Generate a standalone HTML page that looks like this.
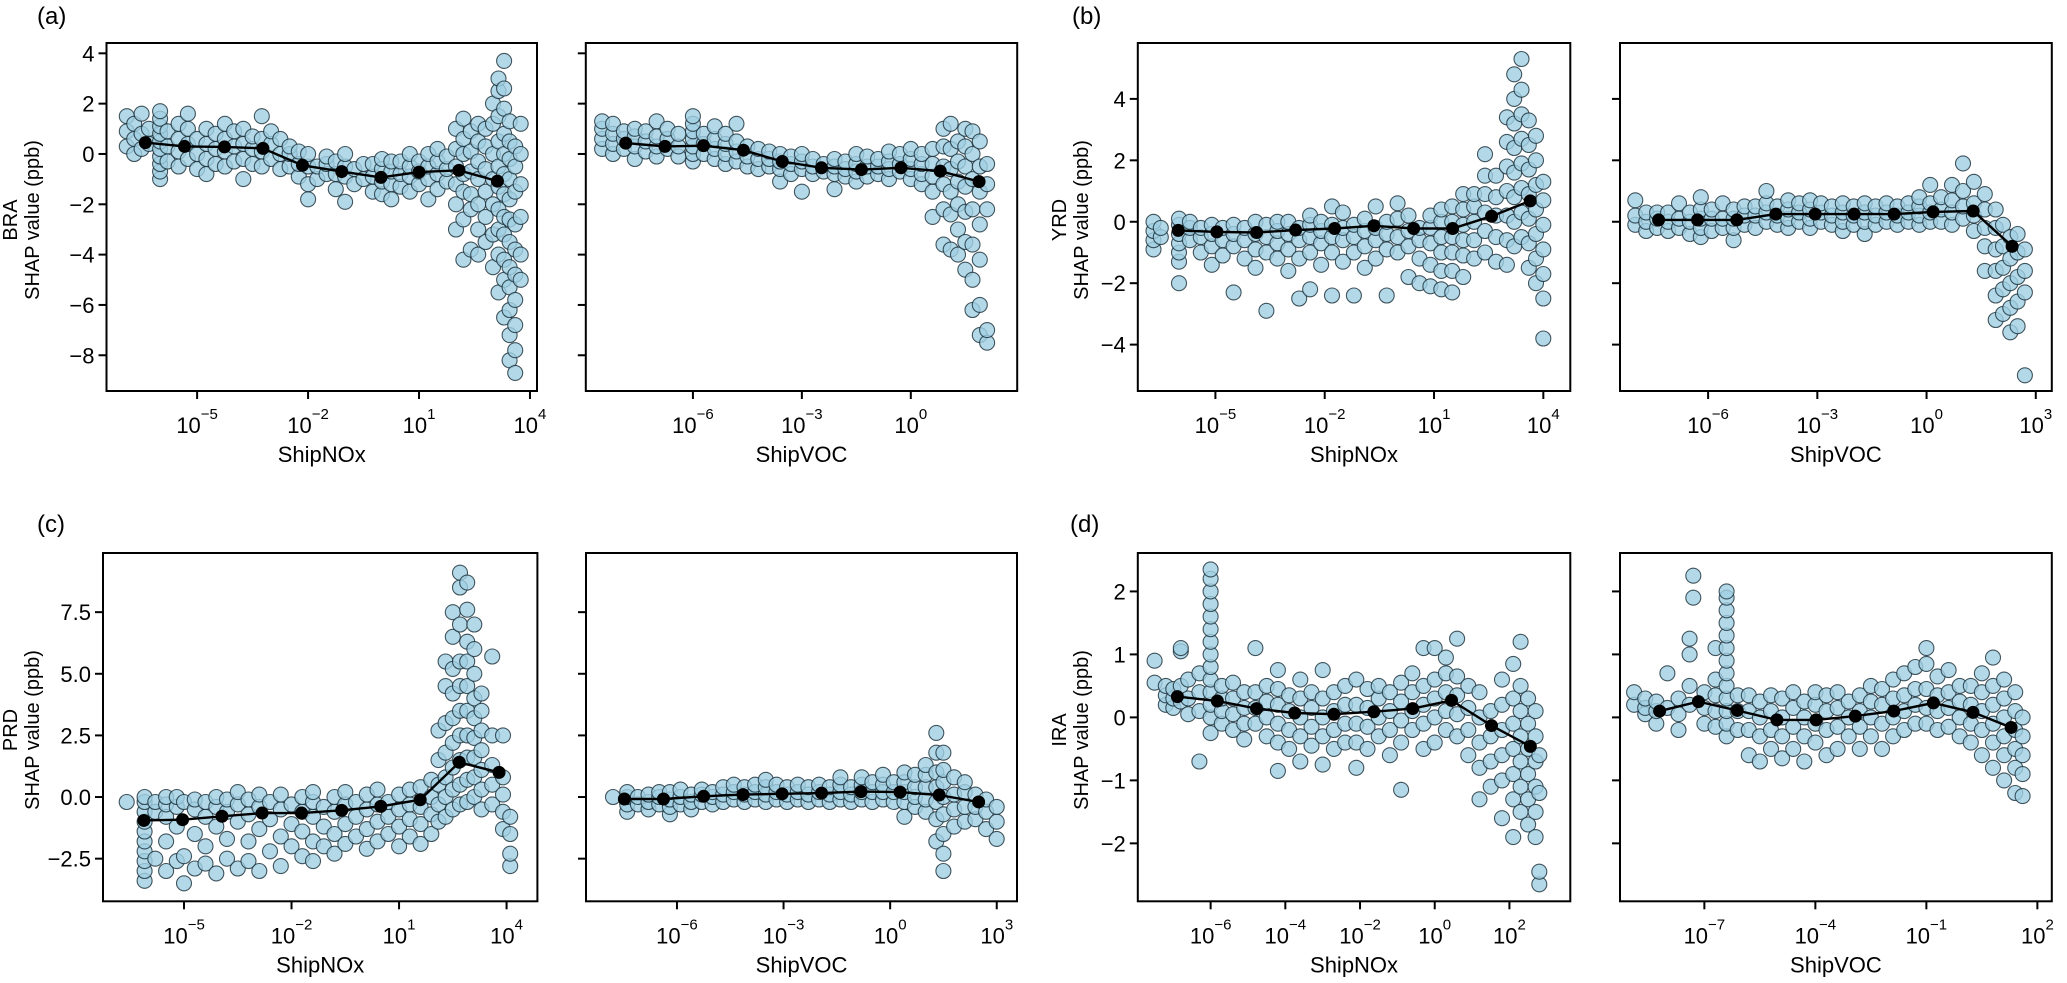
<!DOCTYPE html>
<html><head><meta charset="utf-8"><style>
html,body{margin:0;padding:0;background:#fff;}
svg{display:block;font-family:"Liberation Sans",Arial,sans-serif;}
</style></head><body>
<svg id="fig" width="2067" height="983" viewBox="0 0 2067 983" xmlns="http://www.w3.org/2000/svg"></svg>
<script>
// ---- mean-curve data (x in log10 units, y in ppb) ----
const braNOxMeanX=[-6.4,-5.34,-4.26,-3.22,-2.15,-1.09,-0.03,1.0,2.08,3.12];
const braNOxMeanY=[0.45,0.3,0.28,0.22,-0.45,-0.7,-0.93,-0.72,-0.65,-1.08];
const braVOCMeanX=[-7.85,-6.77,-5.71,-4.61,-3.54,-2.46,-1.36,-0.27,0.81,1.88];
const braVOCMeanY=[0.43,0.3,0.33,0.15,-0.3,-0.55,-0.62,-0.55,-0.68,-1.1];
const yrdNOxMeanX=[-6.02,-4.96,-3.87,-2.8,-1.73,-0.65,0.44,1.51,2.58,3.64];
const yrdNOxMeanY=[-0.28,-0.33,-0.35,-0.27,-0.22,-0.13,-0.22,-0.22,0.18,0.68];
const yrdVOCMeanX=[-7.36,-6.29,-5.21,-4.14,-3.06,-1.99,-0.89,0.18,1.28,2.35];
const yrdVOCMeanY=[0.06,0.06,0.06,0.25,0.25,0.25,0.25,0.32,0.35,-0.8];
const prdNOxMeanX=[-6.12,-5.04,-3.94,-2.82,-1.72,-0.6,0.49,1.59,2.68,3.79];
const prdNOxMeanY=[-0.95,-0.92,-0.78,-0.65,-0.65,-0.54,-0.38,-0.11,1.41,1.0];
const prdVOCMeanX=[-7.48,-6.38,-5.25,-4.14,-3.04,-1.93,-0.82,0.28,1.38,2.49];
const prdVOCMeanY=[-0.08,-0.08,0.03,0.1,0.13,0.16,0.22,0.2,0.08,-0.2];
const iraNOxMeanX=[-6.89,-5.82,-4.77,-3.75,-2.7,-1.63,-0.59,0.45,1.52,2.56];
const iraNOxMeanY=[0.33,0.26,0.14,0.07,0.05,0.09,0.14,0.27,-0.13,-0.46];
const iraVOCMeanX=[-8.21,-7.16,-6.11,-5.04,-3.98,-2.92,-1.88,-0.81,0.26,1.29];
const iraVOCMeanY=[0.1,0.25,0.11,-0.04,-0.04,0.02,0.1,0.23,0.08,-0.16];

// ---- scatter data: [log10 x, [SHAP values...]] ----
const braNOxPts=[[-6.9,[0.3,0.9,1.5]],[-6.7,[0,0.6,1.2]],[-6.5,[0.2,0.8,1.6]],[-6.3,[0.4,1.0]],[-6.0,[-1.0,-0.7,-0.4,-0.1,0.2,0.5,0.8,1.1,1.4,1.7]],[-5.8,[-0.3,0.3,0.9]],[-5.5,[-0.5,0.1,0.6,1.2]],[-5.25,[-0.2,0.4,1.0,1.6]],[-5.0,[-0.6,0,0.6]],[-4.75,[-0.8,-0.2,0.4,1.0]],[-4.5,[-0.4,0.2,0.8]],[-4.25,[-0.5,0.1,0.6,1.2]],[-4.0,[-0.3,0.3,0.9]],[-3.75,[-1.0,-0.2,0.4,1.0]],[-3.5,[-0.4,0.2,0.7]],[-3.25,[-0.5,0.1,0.6,1.5]],[-3.0,[-0.2,0.4,0.9]],[-2.75,[-0.6,0,0.6]],[-2.5,[-0.5,0,0.3]],[-2.25,[-0.9,-0.4,0.1]],[-2.0,[-1.8,-1.2,-0.5,0]],[-1.75,[-1.0,-0.5]],[-1.5,[-0.8,-0.4,-0.1]],[-1.25,[-1.4,-0.8,-0.3]],[-1.0,[-1.9,-0.9,-0.5,0]],[-0.75,[-1.2,-0.6]],[-0.5,[-1.0,-0.4]],[-0.25,[-1.5,-0.9,-0.4]],[0,[-1.6,-1.1,-0.6,-0.2]],[0.25,[-1.8,-1.2,-0.7,-0.3]],[0.5,[-1.3,-0.8,-0.3]],[0.75,[-1.5,-0.9,-0.5,0]],[1.0,[-1.2,-0.7,-0.3]],[1.25,[-1.8,-1.0,-0.5,0]],[1.5,[-1.4,-0.8,-0.3,0.2]],[1.75,[-1.1,-0.6,-0.1]],[2.0,[-3.0,-2.0,-1.2,-0.5,0.2,1.0]],[2.2,[-4.2,-2.6,-1.5,-0.8,0,0.6,1.4]],[2.4,[-3.8,-2.2,-1.6,-0.7,0.1,0.9]],[2.6,[-4.0,-3.0,-2.0,-1.0,-0.3,0.5,1.2]],[2.8,[-3.5,-2.5,-1.5,-0.6,0.3,1.0]],[3.0,[-4.5,-3.2,-2.0,-1.0,0,1.2,2.0]],[3.15,[-5.5,-4.0,-3.0,-2.2,-1.3,-0.5,0.5,1.5,2.5,3.0]],[3.3,[-6.5,-5.0,-4.2,-3.2,-2.5,-1.6,-0.8,0,0.8,1.8,2.6,3.7]],[3.45,[-8.2,-7.2,-6.2,-5.3,-4.5,-3.5,-2.6,-1.8,-1.0,-0.2,0.5,1.3]],[3.6,[-8.7,-7.8,-6.8,-5.8,-4.8,-3.8,-2.8,-1.5,-0.5,0.3]],[3.75,[-5.0,-4.0,-2.5,-1.2,0,1.2]]];
const braVOCPts=[[-8.5,[0.2,0.6,1.0,1.3]],[-8.2,[0,0.4,0.8,1.2]],[-7.9,[0.2,0.6,0.9]],[-7.6,[-0.2,0.3,0.7,1.0]],[-7.3,[0.1,0.5,0.9]],[-7.0,[-0.1,0.3,0.7,1.3]],[-6.7,[0.2,0.6,1.0]],[-6.4,[-0.1,0.3,0.8]],[-6.0,[-0.3,0,0.3,0.6,0.9,1.2,1.5]],[-5.7,[0,0.4,0.8]],[-5.4,[-0.2,0.2,0.6,1.1]],[-5.1,[-0.4,0,0.4,0.8]],[-4.8,[-0.3,0.1,0.5,1.2]],[-4.5,[-0.5,-0.1,0.3]],[-4.2,[-0.6,-0.2,0.2]],[-3.9,[-0.5,-0.2,0.1]],[-3.6,[-1.1,-0.6,-0.3,0]],[-3.3,[-0.8,-0.4,-0.1]],[-3.0,[-1.5,-0.6,-0.3,0]],[-2.7,[-0.8,-0.5,-0.2]],[-2.4,[-0.7,-0.4]],[-2.1,[-1.4,-0.8,-0.5,-0.2]],[-1.8,[-0.9,-0.6,-0.3]],[-1.5,[-1.1,-0.7,-0.4,0]],[-1.2,[-0.9,-0.5,-0.1]],[-0.9,[-0.8,-0.5,-0.2]],[-0.6,[-1.0,-0.6,-0.3,0.1]],[-0.3,[-0.7,-0.4,0]],[0,[-1.0,-0.6,-0.2,0.2]],[0.3,[-1.2,-0.8,-0.4,0]],[0.6,[-2.5,-1.5,-0.9,-0.4,0.2]],[0.9,[-3.6,-2.2,-1.2,-0.5,0.3,1.0]],[1.1,[-3.8,-2.4,-1.5,-0.6,0.2,1.2]],[1.3,[-4.0,-3.0,-2.0,-1.1,-0.3,0.5]],[1.5,[-4.6,-3.5,-2.3,-1.3,-0.5,0.3,1.0]],[1.7,[-6.2,-5.0,-3.6,-2.2,-1.0,0,0.9]],[1.9,[-7.2,-6.0,-4.2,-2.8,-1.5,-0.5,0.5]],[2.1,[-7.5,-7.0,-2.2,-1.2,-0.4]]];
const yrdNOxPts=[[-6.7,[-0.9,-0.6,-0.3,0]],[-6.5,[-0.5,-0.2]],[-6.0,[-2.0,-1.3,-1.0,-0.7,-0.4,-0.1,0.1]],[-5.7,[-0.6,-0.2,0]],[-5.4,[-1.0,-0.5,-0.2]],[-5.1,[-1.4,-0.8,-0.4,-0.1]],[-4.8,[-1.1,-0.6,-0.2]],[-4.5,[-2.3,-0.8,-0.4,-0.1]],[-4.2,[-1.2,-0.6,-0.2]],[-3.9,[-1.5,-0.9,-0.4,0]],[-3.6,[-2.9,-1.0,-0.5,-0.1]],[-3.3,[-1.2,-0.7,-0.3,0]],[-3.0,[-1.6,-0.9,-0.4,0]],[-2.7,[-2.5,-1.2,-0.6,-0.2]],[-2.4,[-2.2,-1.0,-0.5,-0.1,0.2]],[-2.1,[-1.4,-0.7,-0.3,0]],[-1.8,[-2.4,-1.0,-0.5,-0.1,0.5]],[-1.5,[-1.3,-0.6,-0.2,0.3]],[-1.2,[-2.4,-1.0,-0.5,-0.1]],[-0.9,[-1.5,-0.8,-0.3,0.1]],[-0.6,[-1.2,-0.6,-0.2,0.5]],[-0.3,[-2.4,-0.9,-0.4,0]],[0,[-1.0,-0.5,0.1,0.6]],[0.3,[-1.8,-0.8,-0.3,0.2]],[0.6,[-2.0,-1.2,-0.6,-0.2]],[0.9,[-2.1,-1.4,-0.7,-0.2,0.2]],[1.2,[-2.2,-1.6,-1.0,-0.5,0,0.4]],[1.5,[-2.3,-1.6,-1.0,-0.5,0,0.5]],[1.8,[-1.8,-1.1,-0.6,-0.1,0.4,0.9]],[2.1,[-1.2,-0.6,0,0.5,0.9]],[2.4,[-1.0,-0.3,0.3,0.9,1.5,2.2]],[2.7,[-1.3,-0.5,0.2,0.8,1.5]],[3.0,[-1.4,-0.6,0.2,1.0,1.8,2.6,3.4]],[3.2,[-0.8,0,0.8,1.6,2.4,3.2,4.0,4.8]],[3.4,[-0.5,0.3,1.1,1.9,2.7,3.5,4.3,5.3]],[3.6,[-1.5,-0.7,0.1,0.9,1.7,2.5,3.3]],[3.8,[-2.0,-1.2,-0.4,0.4,1.2,2.0,2.8]],[4.0,[-3.8,-2.5,-1.7,-0.9,-0.1,0.7,1.3]]];
const yrdVOCPts=[[-8.0,[-0.1,0.2,0.7]],[-7.7,[-0.3,0,0.3]],[-7.4,[-0.2,0.1,0.3]],[-7.1,[-0.3,0,0.3]],[-6.8,[-0.2,0.1,0.6]],[-6.5,[-0.4,0,0.3]],[-6.2,[-0.5,-0.2,0.1,0.4,0.8]],[-5.9,[-0.3,0.1,0.4]],[-5.6,[-0.2,0.1,0.6]],[-5.3,[-0.6,-0.2,0.1,0.4]],[-5.0,[-0.1,0.2,0.5]],[-4.7,[-0.2,0.2,0.5]],[-4.4,[0,0.3,0.6,1.0]],[-4.1,[-0.1,0.2,0.5]],[-3.8,[-0.2,0.1,0.4,0.7]],[-3.5,[0,0.3,0.6]],[-3.2,[-0.2,0.1,0.4,0.7]],[-2.9,[0,0.3,0.6]],[-2.6,[-0.1,0.2,0.5]],[-2.3,[-0.3,0,0.3,0.6]],[-2.0,[-0.1,0.2,0.5]],[-1.7,[-0.4,0,0.3,0.6]],[-1.4,[-0.1,0.2,0.5]],[-1.1,[0,0.3,0.6]],[-0.8,[-0.1,0.2,0.5]],[-0.5,[0,0.3,0.6]],[-0.2,[-0.1,0.2,0.5,0.8]],[0.1,[0,0.3,0.6,1.2]],[0.4,[0,0.4,0.8]],[0.7,[-0.1,0.3,0.7,1.2]],[1.0,[0.1,0.5,1.0,1.9]],[1.3,[-0.3,0.2,0.6,1.3]],[1.6,[-1.6,-0.8,-0.2,0.4,0.9]],[1.9,[-3.2,-2.4,-1.6,-0.9,-0.2,0.4]],[2.1,[-3.0,-2.2,-1.5,-0.8,-0.1]],[2.3,[-3.6,-2.8,-2.0,-1.2,-0.5]],[2.5,[-3.4,-2.6,-1.8,-1.0,-0.4]],[2.7,[-5.0,-2.3,-1.6,-0.9]]];
const prdNOxPts=[[-6.6,[-0.2]],[-6.1,[-3.4,-3.0,-2.6,-2.2,-1.8,-1.4,-1.0,-0.6,-0.2,0]],[-5.8,[-2.5,-0.6,-0.2]],[-5.5,[-3.0,-1.8,-0.8,-0.3,0]],[-5.2,[-2.6,-1.2,-0.4,0]],[-5.0,[-3.5,-2.4,-0.2]],[-4.7,[-2.9,-1.5,-0.5,-0.1]],[-4.4,[-2.7,-2.0,-0.8,-0.2]],[-4.1,[-3.1,-1.2,-0.4,0]],[-3.8,[-2.5,-1.7,-0.6,-0.1]],[-3.5,[-2.9,-1.0,-0.3,0.2]],[-3.2,[-2.6,-1.8,-0.7,-0.1]],[-2.9,[-3.0,-1.3,-0.4,0.1]],[-2.6,[-2.2,-0.9,-0.2]],[-2.3,[-2.8,-1.6,-0.5,0.1]],[-2.0,[-2.0,-1.1,-0.3]],[-1.7,[-2.4,-1.4,-0.6,0]],[-1.4,[-2.6,-1.8,-0.8,-0.2,0.2]],[-1.1,[-2.0,-1.2,-0.4]],[-0.8,[-2.3,-1.5,-0.6,0]],[-0.5,[-1.9,-1.1,-0.3,0.2]],[-0.2,[-1.6,-0.8,-0.2]],[0.1,[-2.1,-1.3,-0.5,0.1]],[0.4,[-1.8,-1.0,-0.3,0.3]],[0.7,[-1.5,-0.8,-0.2]],[1.0,[-2.0,-1.2,-0.5,0.1]],[1.3,[-1.6,-0.9,-0.3,0.3]],[1.6,[-1.9,-1.1,-0.4,0.4]],[1.9,[-1.5,-0.7,0,0.7]],[2.1,[-1.0,-0.3,0.5,1.5,2.7]],[2.3,[-0.8,0,0.8,1.8,3.0,4.5,5.5]],[2.5,[-0.5,0.3,1.2,2.2,3.2,4.2,5.2,6.5,7.5]],[2.7,[-0.3,0.5,1.5,2.5,3.5,4.5,5.5,7.0,8.5,9.1]],[2.9,[-0.2,0.7,1.6,2.5,3.5,4.5,5.5,6.3,7.6,8.7]],[3.1,[0,0.8,1.6,2.4,3.2,4.0,5.0,6.0,7.0]],[3.3,[-0.5,0.3,1.1,1.9,2.7,3.5,4.2]],[3.6,[-0.3,0.5,1.3,2.5,5.7]],[3.9,[-1.3,-0.6,0.1,0.8,2.5]],[4.1,[-2.8,-2.3,-1.5,-0.8]]];
const prdVOCPts=[[-7.8,[0]],[-7.4,[-0.6,-0.3,0,0.2]],[-7.1,[-0.3,0]],[-6.8,[-0.5,-0.2,0.1]],[-6.5,[-0.3,0,0.2]],[-6.2,[-0.7,-0.4,-0.1,0.2]],[-5.9,[-0.3,0,0.3]],[-5.6,[-0.5,-0.2,0.1]],[-5.3,[-0.2,0.1,0.3]],[-5.0,[-0.3,0,0.2]],[-4.7,[-0.2,0.1,0.4]],[-4.4,[-0.1,0.2,0.5]],[-4.1,[-0.2,0.1,0.4]],[-3.8,[-0.1,0.2,0.5]],[-3.5,[-0.2,0.1,0.4,0.7]],[-3.2,[-0.1,0.2,0.5]],[-2.9,[-0.2,0.1,0.4]],[-2.6,[-0.1,0.2,0.5]],[-2.3,[-0.2,0.1,0.4]],[-2.0,[-0.1,0.2,0.5]],[-1.7,[-0.2,0.1,0.4]],[-1.4,[-0.1,0.2,0.5,0.8]],[-1.1,[-0.2,0.1,0.4]],[-0.8,[-0.1,0.2,0.5,0.8]],[-0.5,[-0.2,0.2,0.6]],[-0.2,[-0.1,0.2,0.5,0.9]],[0.1,[-0.2,0.2,0.6]],[0.4,[-0.8,-0.2,0.2,0.6,1.0]],[0.7,[-0.4,0,0.4,0.9]],[1.0,[-0.6,-0.1,0.4,0.9,1.3]],[1.3,[-1.8,-0.9,-0.2,0.4,1.0,1.8,2.6]],[1.5,[-3.0,-2.3,-1.5,-0.7,0,0.6,1.1,1.8]],[1.8,[-1.2,-0.5,0.1,0.8]],[2.1,[-1.0,-0.4,0.2,0.6]],[2.4,[-0.9,-0.4,0.1]],[2.7,[-1.3,-0.6,-0.1]],[3.0,[-1.7,-1.0,-0.4]]];
const iraNOxPts=[[-7.5,[0.55,0.9]],[-7.2,[0.2,0.35,0.5]],[-7.0,[0.15,0.3,0.45]],[-6.8,[0.25,0.5,1.05,1.1]],[-6.6,[0.05,0.3,0.6]],[-6.3,[-0.7,0.1,0.4,0.7]],[-6.0,[-0.25,0,0.2,0.4,0.6,0.8,1.0,1.2,1.4,1.6,1.8,2.0,2.2,2.35]],[-5.7,[-0.1,0.1,0.3,0.5]],[-5.4,[-0.2,0.05,0.3,0.55]],[-5.1,[-0.35,-0.1,0.15,0.4]],[-4.8,[-0.1,0.15,0.4,1.1]],[-4.5,[-0.3,0,0.25,0.5]],[-4.2,[-0.85,-0.4,-0.1,0.2,0.45,0.75]],[-3.9,[-0.5,-0.2,0.1,0.35]],[-3.6,[-0.7,-0.3,0,0.3,0.6]],[-3.3,[-0.45,-0.15,0.15,0.4]],[-3.0,[-0.75,-0.3,0,0.3,0.75]],[-2.7,[-0.5,-0.2,0.1,0.4]],[-2.4,[-0.4,-0.1,0.2,0.5]],[-2.1,[-0.8,-0.4,-0.1,0.2,0.6]],[-1.8,[-0.5,-0.15,0.15,0.45]],[-1.5,[-0.3,0,0.3,0.5]],[-1.2,[-0.6,-0.2,0.1,0.4]],[-0.9,[-1.15,-0.4,-0.05,0.25,0.55]],[-0.6,[-0.2,0.1,0.4,0.7]],[-0.3,[-0.5,-0.1,0.2,0.5,1.1]],[0,[-0.4,0,0.3,0.6,1.1]],[0.3,[-0.2,0.1,0.4,0.7,0.95]],[0.6,[-0.3,0.05,0.35,0.65,1.25]],[0.9,[-0.6,-0.2,0.15,0.5]],[1.2,[-1.3,-0.8,-0.4,0,0.4]],[1.5,[-1.1,-0.7,-0.3,0.1]],[1.8,[-1.6,-1.0,-0.6,-0.2,0.2,0.6]],[2.1,[-1.9,-1.3,-0.9,-0.5,-0.1,0.3,0.85]],[2.3,[-1.5,-1.1,-0.7,-0.3,0.1,0.5,1.2]],[2.5,[-1.7,-1.3,-0.9,-0.5,-0.1,0.3]],[2.7,[-1.9,-1.5,-1.1,-0.7,-0.3,0.1]],[2.8,[-2.65,-2.45,-1.2,-0.6]]];
const iraVOCPts=[[-8.9,[0.2,0.4]],[-8.6,[0.05,0.15,0.3]],[-8.3,[-0.1,0.1,0.25]],[-8.0,[0.15,0.7]],[-7.7,[-0.2,0.05,0.3]],[-7.4,[0.2,0.5,1.0,1.25]],[-7.3,[1.9,2.25]],[-7.0,[-0.1,0.15,0.4]],[-6.7,[-0.15,0.1,0.35,0.6,1.1]],[-6.4,[-0.3,-0.1,0.1,0.3,0.5,0.7,0.9,1.1,1.3,1.5,1.7,1.9,2.0]],[-6.1,[-0.2,0.1,0.35]],[-5.8,[-0.6,-0.2,0.1,0.35]],[-5.5,[-0.7,-0.3,0,0.25]],[-5.2,[-0.5,-0.2,0.1,0.35]],[-4.9,[-0.65,-0.3,0,0.3]],[-4.6,[-0.5,-0.15,0.15,0.4]],[-4.3,[-0.7,-0.3,0,0.25]],[-4.0,[-0.4,-0.1,0.2,0.4]],[-3.7,[-0.6,-0.2,0.1,0.35]],[-3.4,[-0.5,-0.15,0.15,0.4]],[-3.1,[-0.3,0,0.25]],[-2.8,[-0.5,-0.15,0.1,0.35]],[-2.5,[-0.3,0,0.25,0.5]],[-2.2,[-0.5,-0.1,0.2,0.45]],[-1.9,[-0.3,0,0.3,0.6]],[-1.6,[-0.2,0.1,0.35,0.7]],[-1.3,[-0.1,0.2,0.45,0.8]],[-1.0,[-0.1,0.15,0.45,0.85,1.1]],[-0.7,[-0.2,0.1,0.35,0.65]],[-0.4,[-0.15,0.15,0.4,0.75]],[-0.1,[-0.3,0,0.25,0.5]],[0.2,[-0.4,-0.1,0.2,0.5]],[0.5,[-0.6,-0.2,0.1,0.4,0.7]],[0.8,[-0.8,-0.4,-0.1,0.2,0.5,0.95]],[1.1,[-1.0,-0.6,-0.3,0,0.3,0.6]],[1.4,[-1.2,-0.8,-0.5,-0.2,0.1,0.4]],[1.6,[-1.25,-0.9,-0.6,-0.3,0]]];

// ---- tick values ----
const yTicksBRA=[4,2,0,-2,-4,-6,-8];
const yTicksYRD=[4,2,0,-2,-4];
const yTicksPRD=[7.5,5.0,2.5,0.0,-2.5];
const yTicksIRA=[2,1,0,-1,-2];
const xTicksNOx=[-5,-2,1,4];
const xTicksVOC=[-6,-3,0];
const xTicksVOC3=[-6,-3,0,3];
const xTicksIRANOx=[-6,-4,-2,0,2];
const xTicksIRAVOC=[-7,-4,-1,2];

const NS="http://www.w3.org/2000/svg";
const svg=document.getElementById('fig');
function el(tag,attrs,parent){const e=document.createElementNS(NS,tag);for(const k in attrs)e.setAttribute(k,attrs[k]);(parent||svg).appendChild(e);return e;}
const fmt=v=>String(v).replace('-','\u2212');

function panel(cfg){
  const g=el('g',{});
  
  
  const sx=l=>cfg.x0+(l-cfg.lmin)/(cfg.lmax-cfg.lmin)*(cfg.x1-cfg.x0);
  const sy=v=>cfg.y0+(cfg.ymax-v)/(cfg.ymax-cfg.ymin)*(cfg.y1-cfg.y0);
  const clip='c'+cfg.name;
  const cp=el('clipPath',{id:clip},g);el('rect',{x:cfg.x0,y:cfg.y0,width:cfg.x1-cfg.x0,height:cfg.y1-cfg.y0},cp);
  const pts=el('g',{'clip-path':'url(#'+clip+')'},g);
  
  
  cfg.pts.forEach(col=>{col[1].forEach(v=>{
    const c=el('circle',{cx:sx(col[0]).toFixed(1),cy:sy(v).toFixed(1),r:7.5,fill:'rgba(160,208,226,0.8)',stroke:'rgba(25,45,55,0.8)','stroke-width':1.1},pts);
    
    
  });});
  const d=cfg.mx.map((x,i)=>(i?'L':'M')+sx(x).toFixed(1)+','+sy(cfg.my[i]).toFixed(1)).join('');
  const ln=el('path',{d:d,fill:'none',stroke:'#000','stroke-width':2.4},g);
  
  
  cfg.mx.forEach((x,i)=>{const c=el('circle',{cx:sx(x),cy:sy(cfg.my[i]),r:6.5,fill:'#000'},g);
    
    });
  const fr=el('rect',{x:cfg.x0,y:cfg.y0,width:cfg.x1-cfg.x0,height:cfg.y1-cfg.y0,fill:'none',stroke:'#000','stroke-width':2},g);
  
  
  cfg.yt.forEach(v=>{const y=sy(v);el('line',{x1:cfg.x0-8,x2:cfg.x0,y1:y,y2:y,stroke:'#000','stroke-width':2},g);
    if(cfg.ylab){const t=el('text',{x:cfg.x0-12,y:y+8,'text-anchor':'end','font-size':22,fill:'#000'},g);t.textContent=cfg.fmtY?cfg.fmtY(v):fmt(v);
      
      }});
  cfg.xt.forEach(l=>{const x=sx(l);el('line',{x1:x,x2:x,y1:cfg.y1,y2:cfg.y1+8,stroke:'#000','stroke-width':2},g);
    const t=el('text',{x:x,y:cfg.y1+42,'text-anchor':'middle','font-size':22,fill:'#000'},g);
    
    
    const a=el('tspan',{},t);a.textContent='10';
    const b=el('tspan',{dy:-14,'font-size':15},t);b.textContent=fmt(l);});
  const xl=el('text',{x:(cfg.x0+cfg.x1)/2,y:cfg.y1+71,'text-anchor':'middle','font-size':22,fill:'#000'},g);
  xl.textContent=cfg.xlabel;
  
  
}
function ylabel(region,bx,cy){
  const t1=el('text',{transform:`translate(${bx-22},${cy}) rotate(-90)`,'text-anchor':'middle','font-size':20,fill:'#000'});t1.textContent=region;
  
  
  const t2=el('text',{transform:`translate(${bx},${cy}) rotate(-90)`,'text-anchor':'middle','font-size':20,fill:'#000'});t2.textContent='SHAP value (ppb)';
  
  
}
function plabel(txt,x,y){const t=el('text',{x:x,y:y,'font-size':24,fill:'#000'});t.textContent=txt;
  
  }

const topRow={y0:43,y1:391}, botRow={y0:553,y1:901.3};
panel({name:'bra-shipnox',x0:106.5,x1:537,lmin:-7.45,lmax:4.19,...topRow,ymax:4.41,ymin:-9.42,yt:yTicksBRA,ylab:true,xt:xTicksNOx,pts:braNOxPts,mx:braNOxMeanX,my:braNOxMeanY,xlabel:'ShipNOx'});
panel({name:'bra-shipvoc',x0:585.8,x1:1017.2,lmin:-8.95,lmax:2.93,...topRow,ymax:4.41,ymin:-9.42,yt:yTicksBRA,ylab:false,xt:xTicksVOC,pts:braVOCPts,mx:braVOCMeanX,my:braVOCMeanY,xlabel:'ShipVOC'});
panel({name:'yrd-shipnox',x0:1137.8,x1:1570.3,lmin:-7.13,lmax:4.74,...topRow,ymax:5.82,ymin:-5.51,yt:yTicksYRD,ylab:true,xt:xTicksNOx,pts:yrdNOxPts,mx:yrdNOxMeanX,my:yrdNOxMeanY,xlabel:'ShipNOx'});
panel({name:'yrd-shipvoc',x0:1620,x1:2051.8,lmin:-8.42,lmax:3.44,...topRow,ymax:5.82,ymin:-5.51,yt:yTicksYRD,ylab:false,xt:xTicksVOC3,pts:yrdVOCPts,mx:yrdVOCMeanX,my:yrdVOCMeanY,xlabel:'ShipVOC'});
const f1=v=>fmt(v.toFixed(1));
panel({name:'prd-shipnox',x0:103,x1:537.4,lmin:-7.26,lmax:4.86,...botRow,ymax:9.9,ymin:-4.23,yt:yTicksPRD,ylab:true,fmtY:f1,xt:xTicksNOx,pts:prdNOxPts,mx:prdNOxMeanX,my:prdNOxMeanY,xlabel:'ShipNOx'});
panel({name:'prd-shipvoc',x0:586,x1:1017,lmin:-8.56,lmax:3.57,...botRow,ymax:9.9,ymin:-4.23,yt:yTicksPRD,ylab:false,xt:xTicksVOC3,pts:prdVOCPts,mx:prdVOCMeanX,my:prdVOCMeanY,xlabel:'ShipVOC'});
panel({name:'ira-shipnox',x0:1137.8,x1:1570.3,lmin:-7.95,lmax:3.63,...botRow,ymax:2.61,ymin:-2.92,yt:yTicksIRA,ylab:true,xt:xTicksIRANOx,pts:iraNOxPts,mx:iraNOxMeanX,my:iraNOxMeanY,xlabel:'ShipNOx'});
panel({name:'ira-shipvoc',x0:1620,x1:2051.8,lmin:-9.28,lmax:2.39,...botRow,ymax:2.61,ymin:-2.92,yt:yTicksIRA,ylab:false,xt:xTicksIRAVOC,pts:iraVOCPts,mx:iraVOCMeanX,my:iraVOCMeanY,xlabel:'ShipVOC'});

ylabel('BRA',39,220);ylabel('YRD',1088,220);ylabel('PRD',39,730);ylabel('IRA',1088,730);
plabel('(a)',37,24);plabel('(b)',1072,24);plabel('(c)',37,532);plabel('(d)',1070,532);
</script>
</body></html>
